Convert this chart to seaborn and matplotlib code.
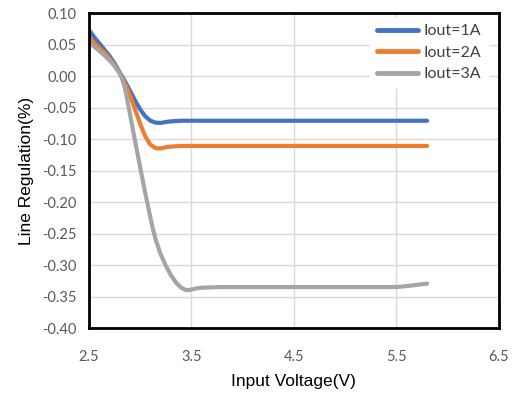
import numpy as np
import pandas as pd
import seaborn as sns
import matplotlib
matplotlib.use("Agg")
import matplotlib.pyplot as plt

# Input voltage sweep (V) and line regulation (%) for each load current
volt_1a = [2.5, 2.55, 2.6, 2.65, 2.7, 2.75, 2.8, 2.85, 2.9, 2.95, 3.0, 3.05, 3.1,
           3.15, 3.2, 3.25, 3.3, 3.4, 3.5, 4.0, 4.5, 5.0, 5.5, 5.8]
reg_1a = [0.073, 0.062, 0.052, 0.042, 0.032, 0.020, 0.006, -0.008, -0.023, -0.039,
          -0.053, -0.064, -0.071, -0.074, -0.0745, -0.073, -0.072, -0.071, -0.071,
          -0.071, -0.071, -0.071, -0.071, -0.071]

volt_2a = [2.5, 2.55, 2.6, 2.65, 2.7, 2.75, 2.8, 2.85, 2.9, 2.95, 3.0, 3.05, 3.1,
           3.15, 3.2, 3.25, 3.3, 3.4, 3.5, 4.0, 4.5, 5.0, 5.5, 5.8]
reg_2a = [0.062, 0.053, 0.045, 0.037, 0.028, 0.017, 0.004, -0.011, -0.030, -0.053,
          -0.076, -0.096, -0.109, -0.1145, -0.115, -0.113, -0.112, -0.111, -0.111,
          -0.111, -0.111, -0.111, -0.111, -0.111]

volt_3a = [2.5, 2.55, 2.6, 2.65, 2.7, 2.75, 2.8, 2.825, 2.85, 2.875, 2.9, 2.95, 3.0,
           3.05, 3.1, 3.125, 3.15, 3.2, 3.25, 3.3, 3.35, 3.4, 3.45, 3.5, 3.55, 3.6,
           3.7, 3.8, 4.0, 4.5, 5.0, 5.3, 5.5, 5.6, 5.7, 5.8]
reg_3a = [0.053, 0.047, 0.040, 0.033, 0.025, 0.016, 0.004, -0.005, -0.019, -0.038,
          -0.060, -0.103, -0.145, -0.186, -0.225, -0.243, -0.259, -0.283, -0.301,
          -0.316, -0.328, -0.336, -0.340, -0.339, -0.337, -0.336, -0.3355, -0.335,
          -0.335, -0.335, -0.335, -0.335, -0.335, -0.3335, -0.3315, -0.3295]

series_names = ["Iout=1A", "Iout=2A", "Iout=3A"]
series_colors = ["#4472C4", "#ED7D31", "#A5A5A5"]

x_ticks = [2.5, 3.5, 4.5, 5.5, 6.5]
y_ticks = [0.10, 0.05, 0.00, -0.05, -0.10, -0.15, -0.20, -0.25, -0.30, -0.35, -0.40]

df = pd.concat([
    pd.DataFrame({"Voltage": v, "Regulation": r, "Load": name})
    for name, v, r in zip(series_names, [volt_1a, volt_2a, volt_3a],
                          [reg_1a, reg_2a, reg_3a])
])

sns.set_theme(style="white")
plt.rcParams["font.family"] = ["Liberation Sans", "DejaVu Sans"]

fig = plt.figure(figsize=(5.17, 3.94), dpi=100)
ax = fig.add_axes([0.172, 0.1675, 0.793, 0.7995])

sns.lineplot(data=df, x="Voltage", y="Regulation", hue="Load",
             hue_order=series_names, palette=series_colors,
             linewidth=3.0, ax=ax, legend=True, sort=False,
             solid_capstyle="round", solid_joinstyle="round")

ax.set_xlim(2.5, 6.5)
ax.set_ylim(-0.40, 0.10)
ax.set_xticks(x_ticks)
ax.set_yticks(y_ticks)
ax.set_xticklabels([f"{t:.1f}" for t in x_ticks], fontfamily="Lato",
                   fontsize=10.5, color="#595959")
ax.set_yticklabels([f"{t:.2f}" for t in y_ticks], fontfamily="Lato",
                   fontsize=10.5, color="#595959")
ax.tick_params(axis="x", length=0, pad=16)
ax.tick_params(axis="y", length=0, pad=9)

ax.grid(True, color="#D9D9D9", linewidth=1.0)
ax.set_axisbelow(True)
for side in ["left", "right", "top", "bottom"]:
    ax.spines[side].set_visible(True)
    ax.spines[side].set_color("black")
    ax.spines[side].set_linewidth(2.0)

ax.set_xlabel("Input Voltage(V)", fontsize=12.5, color="black", labelpad=7)
ax.set_ylabel("Line Regulation(%)", fontsize=12.5, color="black", labelpad=6)

leg = ax.legend(loc="upper right", frameon=True, fancybox=False,
                prop={"family": "Lato", "size": 11.5}, handlelength=2.6,
                handletextpad=0.35, labelspacing=0.45,
                borderaxespad=0.3, bbox_to_anchor=(0.985, 1.0))
leg.get_frame().set_facecolor("white")
leg.get_frame().set_edgecolor("white")
leg.get_frame().set_alpha(1.0)
for line in leg.get_lines():
    line.set_linewidth(3.5)
for txt in leg.get_texts():
    txt.set_color("#404040")

fig.savefig("out.png", dpi=100)
